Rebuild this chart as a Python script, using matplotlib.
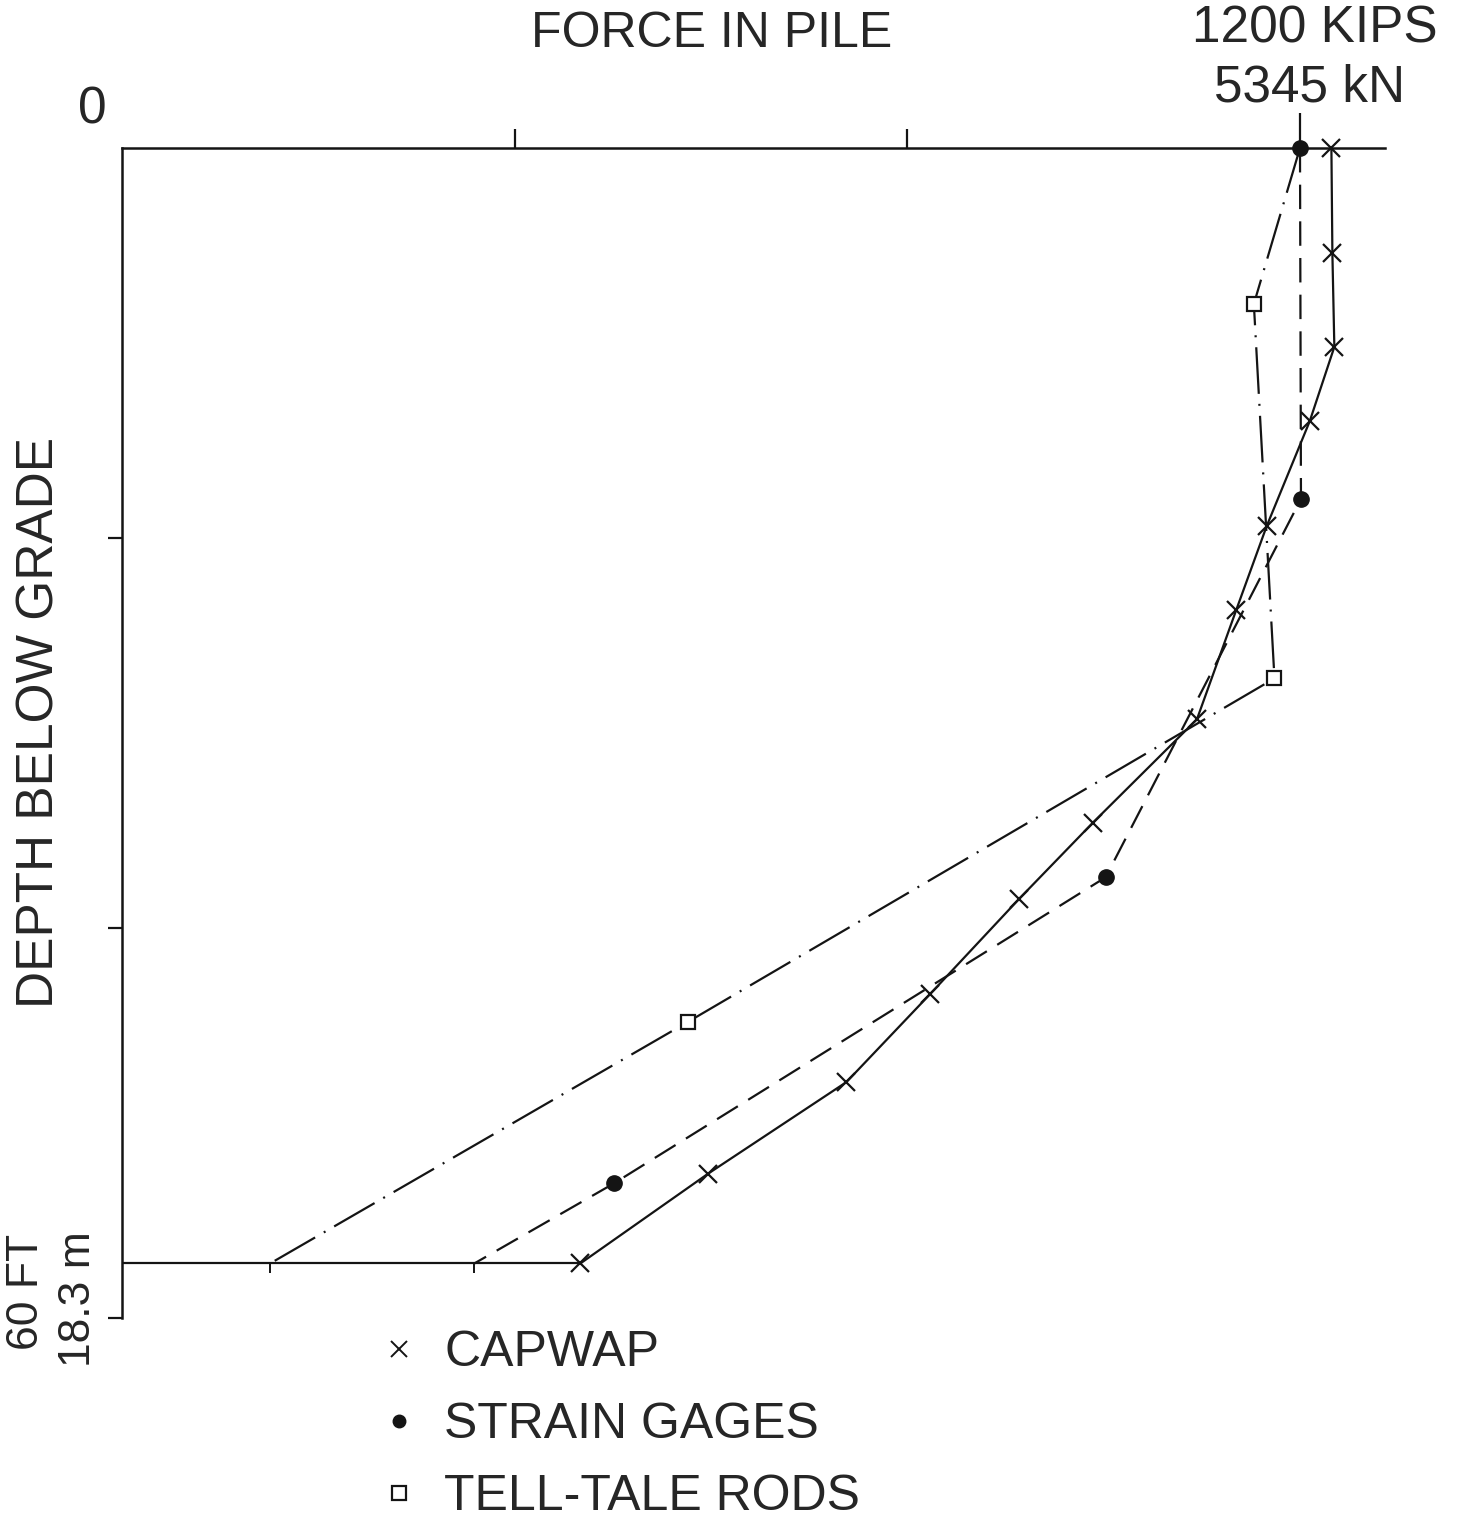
import matplotlib
matplotlib.use("Agg")
import matplotlib.pyplot as plt
from matplotlib.lines import Line2D

# Force in pile (kips) against depth below grade (ft)
TOE_DEPTH = 57.2

capwap_depth = [0.0, 5.4, 10.2, 14.0, 19.4, 23.7, 29.3, 34.6, 38.5, 43.4, 47.9, 52.6, 57.2]
capwap_force = [1232, 1233, 1235, 1210, 1166, 1135, 1095, 989, 914, 823, 738, 597, 467]

gage_depth = [0.0, 18.0, 37.4, 53.1, 57.2]
gage_force = [1200, 1201, 1002, 501, 359]

rod_depth = [0.0, 8.0, 27.2, 44.8, 57.2]
rod_force = [1200, 1153, 1174, 577, 151]

x_ticks = [400, 800]
x_full_scale = 1200
y_ticks = [20, 40, 60]

W, H = 1476, 1524
INK = "#141414"
TXT = "#262626"
FONT = "Liberation Sans"
FS = 37


def px(x, y):
    # pixel position -> figure fraction
    return x / W, 1 - y / H


def main():
    plt.rcParams["font.family"] = [FONT, "DejaVu Sans"]
    fig = plt.figure(figsize=(W / 100, H / 100), dpi=100)
    fig.patch.set_facecolor("white")

    left, top = px(122, 148)
    right, bottom = px(1385, 1318)
    ax = fig.add_axes([left, bottom, right - left, top - bottom])
    ax.set_xlim(0, 1286.6)
    ax.set_ylim(60, 0)

    for s in ["bottom", "right"]:
        ax.spines[s].set_visible(False)
    for s in ["top", "left"]:
        ax.spines[s].set_linewidth(1.8)
        ax.spines[s].set_color(INK)

    ax.xaxis.set_ticks_position("top")
    ax.set_xticks(x_ticks)
    ax.set_xticks([x_full_scale], minor=True)
    ax.tick_params(axis="x", which="major", direction="out", length=14, width=1.6,
                   color=INK, labeltop=False, labelbottom=False)
    ax.tick_params(axis="x", which="minor", direction="out", length=25, width=1.6,
                   color=INK, labeltop=False, labelbottom=False)
    ax.set_yticks(y_ticks)
    ax.tick_params(axis="y", direction="out", length=10, width=1.6, color=INK,
                   labelleft=False)

    # pile toe line
    ax.plot([0, capwap_force[-1]], [TOE_DEPTH, TOE_DEPTH], color=INK, lw=1.6,
            solid_capstyle="butt")

    # CAPWAP - solid with x markers
    ax.plot(capwap_force, capwap_depth, color=INK, lw=1.6, marker="x", ms=13,
            mew=1.6, clip_on=False)

    # strain gages - dashed, filled dots
    ax.plot(gage_force, gage_depth, color=INK, lw=1.6, dashes=(11, 5.5), clip_on=False)
    ax.plot(gage_force[:-1], gage_depth[:-1], ls="none", marker="o", ms=11,
            color=INK, clip_on=False)

    # tell-tale rods - dash-dot, open squares
    ax.plot(rod_force, rod_depth, color=INK, lw=1.6, dashes=(21, 4.5, 0.9, 4.5),
            clip_on=False)
    ax.plot(rod_force[1:-1], rod_depth[1:-1], ls="none", marker="s", ms=10,
            mfc="white", mec=INK, mew=1.6)

    # little marks where the measured curves meet the toe
    ax.plot([gage_force[-1], rod_force[-1]], [TOE_DEPTH, TOE_DEPTH], ls="none",
            marker=3, ms=7, mew=1.4, color=INK, clip_on=False)

    # labels
    fig.text(*px(712, 34), "FORCE IN PILE", ha="center", va="center",
             fontsize=FS - 1, color=TXT)
    fig.text(*px(1315, 29), "1200 KIPS", ha="center", va="center",
             fontsize=FS, color=TXT)
    fig.text(*px(1310, 88), "5345 kN", ha="center", va="center",
             fontsize=FS, color=TXT)
    fig.text(*px(92, 110), "0", ha="center", va="center", fontsize=FS, color=TXT)
    fig.text(*px(40, 722), "DEPTH BELOW GRADE", ha="center", va="center",
             rotation=90, fontsize=FS, color=TXT)
    fig.text(*px(27, 1292), "60 FT", ha="center", va="center",
             rotation=90, fontsize=FS - 5, color=TXT)
    fig.text(*px(78, 1299), "18.3 m", ha="center", va="center",
             rotation=90, fontsize=FS - 5, color=TXT)

    handles = [
        Line2D([], [], ls="none", marker="x", ms=12, mew=1.4, color=INK, label="CAPWAP"),
        Line2D([], [], ls="none", marker="o", ms=9, color=INK, label="STRAIN GAGES"),
        Line2D([], [], ls="none", marker="s", ms=10, mfc="white", mec=INK, mew=1.6,
               label="TELL-TALE RODS"),
    ]
    leg = fig.legend(handles=handles, loc="upper left", bbox_to_anchor=px(384, 1330),
                     frameon=False, fontsize=FS - 1, handlelength=0.6, handletextpad=0.6,
                     labelspacing=0.52, borderpad=0, borderaxespad=0)
    for t in leg.get_texts():
        t.set_color(TXT)

    fig.savefig("out.png", dpi=100, facecolor="white")


if __name__ == "__main__":
    main()
